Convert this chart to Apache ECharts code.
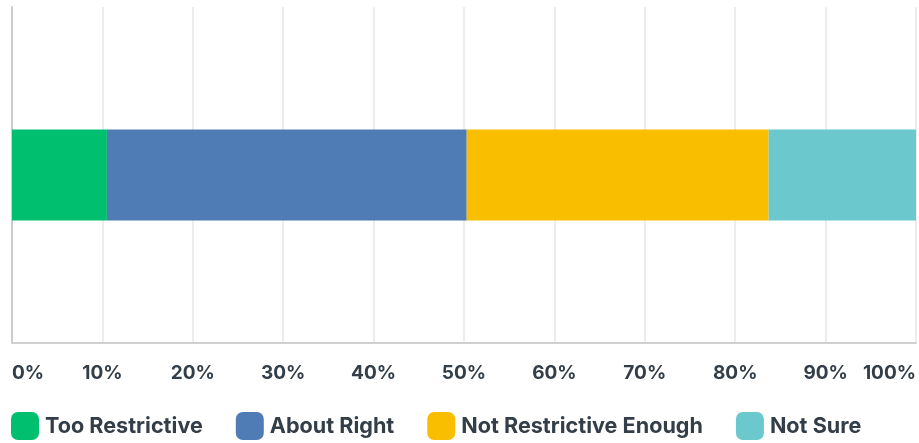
<!DOCTYPE html>
<html><head><meta charset="utf-8">
<script src="https://cdn.jsdelivr.net/npm/echarts@6/dist/echarts.min.js"></script>
<style>html,body{margin:0;padding:0;background:#fff}#c{width:919px;height:443px}</style>
</head><body><div id="c"></div>
<script>
const categories = ['Q'];
const seriesNames = ['Too Restrictive', 'About Right', 'Not Restrictive Enough', 'Not Sure'];
const tooRestrictive = [10.5];
const aboutRight = [39.8];
const notRestrictiveEnough = [33.4];
const notSure = [16.3];
const colors = ['#00bf6f', '#507cb6', '#f9be00', '#6bc8cd'];
const values = [tooRestrictive, aboutRight, notRestrictiveEnough, notSure];
const textColor = '#333e48';
const font = 'Inter';

const chart = echarts.init(document.getElementById('c'));
chart.setOption({
  animation: false,
  grid: { left: 12, right: 1, top: 7, bottom: 100, containLabel: false },
  xAxis: {
    type: 'value', min: 0, max: 100, interval: 10,
    axisLine: { show: true, lineStyle: { color: '#d0d0d0', width: 2 } },
    axisTick: { show: false },
    splitLine: { show: true, lineStyle: { color: '#ededed', width: 2 } },
    axisLabel: {
      formatter: v => v + '%', color: textColor, fontFamily: font, fontWeight: 'bold',
      fontSize: 19, margin: 21, alignMinLabel: 'left', alignMaxLabel: 'right'
    }
  },
  yAxis: {
    type: 'category', data: categories,
    axisLine: { show: true, lineStyle: { color: '#cccccc', width: 2 } },
    axisTick: { show: false }, axisLabel: { show: false }
  },
  legend: {
    left: 11, bottom: 3, padding: 0, itemWidth: 28, itemHeight: 28, itemGap: 33,
    icon: 'roundRect',
    textStyle: { color: textColor, fontFamily: font, fontWeight: 'bold', fontSize: 21.6, padding: [0, 0, 0, 1] },
    data: seriesNames
  },
  series: seriesNames.map((n, i) => ({
    name: n, type: 'bar', stack: 'total', data: values[i], barWidth: 91,
    itemStyle: { color: colors[i] }
  }))
});
</script></body></html>
